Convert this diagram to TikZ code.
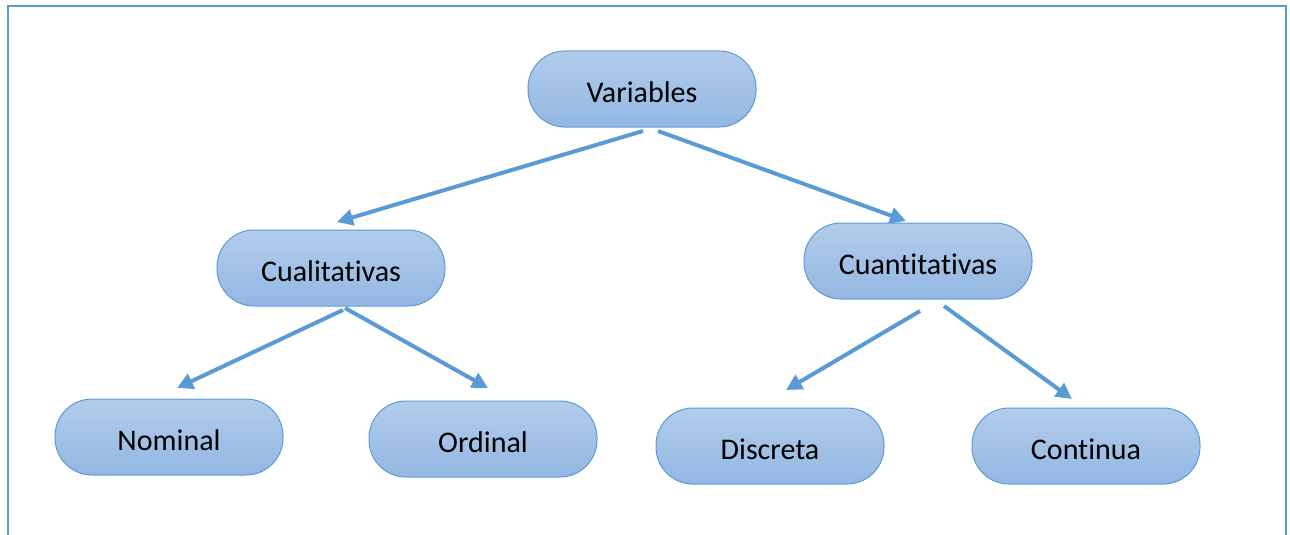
\documentclass[tikz,border=0pt]{standalone}
\usepackage{fontspec}
\setmainfont[Ligatures={NoCommon}]{Carlito}
\usetikzlibrary{arrows.meta}
\definecolor{edgeblue}{HTML}{5B9BD5}
\definecolor{topblue}{HTML}{B2CCEB}
\definecolor{botblue}{HTML}{93B7E2}
\tikzset{
  pill/.style={draw=edgeblue, line width=1pt, rounded corners=37pt,
    top color=topblue, bottom color=botblue,
    minimum width=228pt, minimum height=76pt, inner sep=0pt,
    text height=26pt, text depth=0pt,
    font=\fontsize{30}{33}\selectfont, text=black},
  conn/.style={draw=edgeblue, line width=4pt,
    -{Triangle[length=16pt,width=16pt]}}
}
\begin{document}
\begin{tikzpicture}[x=1pt,y=-1pt]
\useasboundingbox (0,0) rectangle (1290,535);
\draw[edgeblue, line width=2.5pt] (8,536) -- (8,6) -- (1286,6) -- (1286,536);
\node[pill] (var) at (642,89) {Variables};
\node[pill] (cual) at (331,268) {Cualitativas};
\node[pill] (cuan) at (918,261) {Cuantitativas};
\node[pill] (nom) at (169,437) {Nominal};
\node[pill] (ord) at (483,439) {Ordinal};
\node[pill] (dis) at (770,446) {Discreta};
\node[pill] (con) at (1086,446) {Continua};
\coordinate (a1s) at (643,131); \coordinate (a1e) at (337,222);
\coordinate (a2s) at (658,131); \coordinate (a2e) at (906,221);
\coordinate (a3s) at (343,310); \coordinate (a3e) at (177,388);
\coordinate (a4s) at (345,308); \coordinate (a4e) at (488,388);
\coordinate (a5s) at (920,311); \coordinate (a5e) at (786,390);
\coordinate (a6s) at (944,306); \coordinate (a6e) at (1072,399);
\draw[conn] (a1s) -- (a1e);
\draw[conn] (a2s) -- (a2e);
\draw[conn] (a3s) -- (a3e);
\draw[conn] (a4s) -- (a4e);
\draw[conn] (a5s) -- (a5e);
\draw[conn] (a6s) -- (a6e);
\end{tikzpicture}
\end{document}
